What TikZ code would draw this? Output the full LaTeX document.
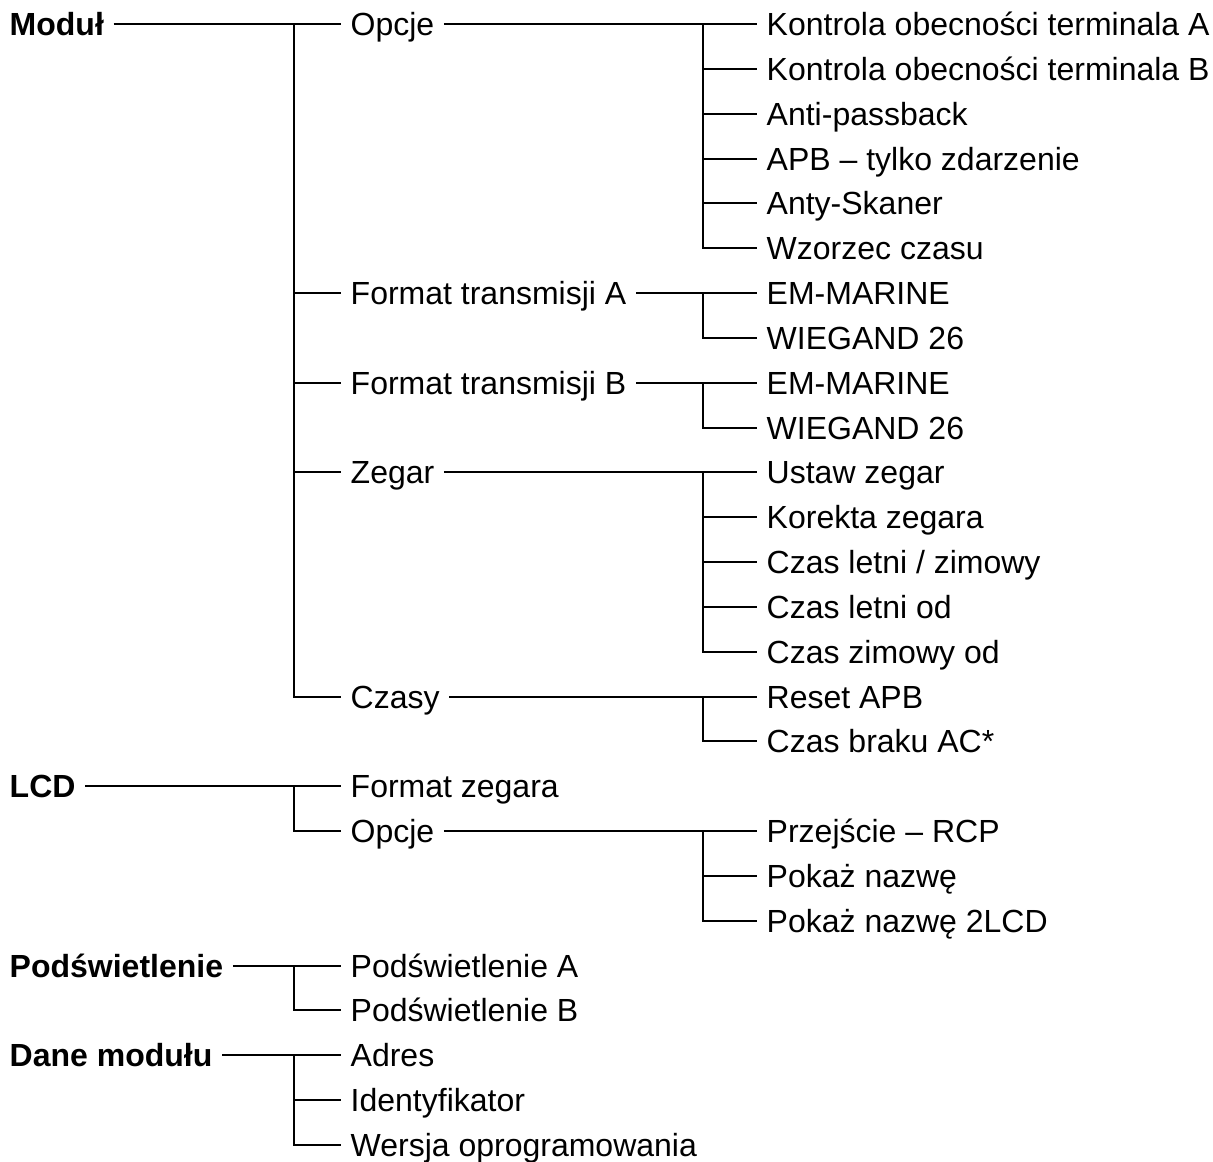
\documentclass[tikz,border=0pt]{standalone}
\usepackage{fontspec}
\setmainfont{Liberation Sans}
\usetikzlibrary{calc}

\tikzset{
  menu/.style={anchor=west, inner xsep=9.5pt, inner ysep=0pt,
    text height=23pt, text depth=0pt, font=\fontsize{32}{38}\selectfont},
  glowny/.style={menu, font=\fontsize{32}{38}\selectfont\bfseries},
  galaz/.style={line width=2pt, black},
}

\begin{document}
\begin{tikzpicture}[x=1pt, y=-44.84pt]
    \useasboundingbox (0,-0.5352) rectangle (1213,25.379);
    % poziom 0
    \node[glowny] (modul) at (0,0) {Moduł};
    \node[glowny] (lcd) at (0,17) {LCD};
    \node[glowny] (podsw) at (0,21) {Podświetlenie};
    \node[glowny] (dane) at (0,23) {Dane modułu};
    % poziom 1
    \node[menu] (opcje) at (341,0) {Opcje};
    \node[menu] (formatA) at (341,6) {Format transmisji A};
    \node[menu] (formatB) at (341,8) {Format transmisji B};
    \node[menu] (zegar) at (341,10) {Zegar};
    \node[menu] (czasy) at (341,15) {Czasy\ };
    \node[menu] (fzegara) at (341,17) {Format zegara};
    \node[menu] (lopcje) at (341,18) {Opcje};
    \node[menu] (podswA) at (341,21) {Podświetlenie A};
    \node[menu] (podswB) at (341,22) {Podświetlenie B};
    \node[menu] (adres) at (341,23) {Adres};
    \node[menu] (ident) at (341,24) {Identyfikator};
    \node[menu] (wersja) at (341,25) {Wersja oprogramowania};
    % poziom 2
    \node[menu] (kontrolaA) at (757,0) {Kontrola obecności terminala A};
    \node[menu] (kontrolaB) at (757,1) {Kontrola obecności terminala B};
    \node[menu] (antipass) at (757,2) {Anti-passback};
    \node[menu] (apb) at (757,3) {APB – tylko zdarzenie};
    \node[menu] (skaner) at (757,4) {Anty-Skaner};
    \node[menu] (wzorzec) at (757,5) {Wzorzec czasu};
    \node[menu] (emA) at (757,6) {EM-MARINE};
    \node[menu] (wgA) at (757,7) {WIEGAND 26};
    \node[menu] (emB) at (757,8) {EM-MARINE};
    \node[menu] (wgB) at (757,9) {WIEGAND 26};
    \node[menu] (ustaw) at (757,10) {Ustaw zegar};
    \node[menu] (korekta) at (757,11) {Korekta zegara};
    \node[menu] (letnizim) at (757,12) {Czas letni / zimowy};
    \node[menu] (letniod) at (757,13) {Czas letni od};
    \node[menu] (zimod) at (757,14) {Czas zimowy od};
    \node[menu] (reset) at (757,15) {Reset APB};
    \node[menu] (brakac) at (757,16) {Czas braku AC*};
    \node[menu] (rcp) at (757,18) {Przejście – RCP};
    \node[menu] (nazwa) at (757,19) {Pokaż nazwę};
    \node[menu] (nazwa2) at (757,20) {Pokaż nazwę 2LCD};
    % punkty rozgalezien
    \coordinate (j-modul) at (294,0);
    \coordinate (j-lcd) at (294,17);
    \coordinate (j-podsw) at (294,21);
    \coordinate (j-dane) at (294,23);
    \coordinate (j-opcje) at (703,0);
    \coordinate (j-formatA) at (703,6);
    \coordinate (j-formatB) at (703,8);
    \coordinate (j-zegar) at (703,10);
    \coordinate (j-czasy) at (703,15);
    \coordinate (j-lopcje) at (703,18);
    % galezie poziomu 1
    \draw[galaz] (modul.east) -- (opcje.west);
    \foreach \c in {formatA,formatB,zegar,czasy}
        \draw[galaz] (j-modul) |- (\c.west);
    \draw[galaz] (lcd.east) -- (fzegara.west);
    \draw[galaz] (j-lcd) |- (lopcje.west);
    \draw[galaz] (podsw.east) -- (podswA.west);
    \draw[galaz] (j-podsw) |- (podswB.west);
    \draw[galaz] (dane.east) -- (adres.west);
    \foreach \c in {ident,wersja}
        \draw[galaz] (j-dane) |- (\c.west);
    % galezie poziomu 2
    \draw[galaz] (opcje.east) -- (kontrolaA.west);
    \foreach \c in {kontrolaB,antipass,apb,skaner,wzorzec}
        \draw[galaz] (j-opcje) |- (\c.west);
    \draw[galaz] (formatA.east) -- (emA.west);
    \draw[galaz] (j-formatA) |- (wgA.west);
    \draw[galaz] (formatB.east) -- (emB.west);
    \draw[galaz] (j-formatB) |- (wgB.west);
    \draw[galaz] (zegar.east) -- (ustaw.west);
    \foreach \c in {korekta,letnizim,letniod,zimod}
        \draw[galaz] (j-zegar) |- (\c.west);
    \draw[galaz] (czasy.east) -- (reset.west);
    \draw[galaz] (j-czasy) |- (brakac.west);
    \draw[galaz] (lopcje.east) -- (rcp.west);
    \foreach \c in {nazwa,nazwa2}
        \draw[galaz] (j-lopcje) |- (\c.west);
\end{tikzpicture}
\end{document}
